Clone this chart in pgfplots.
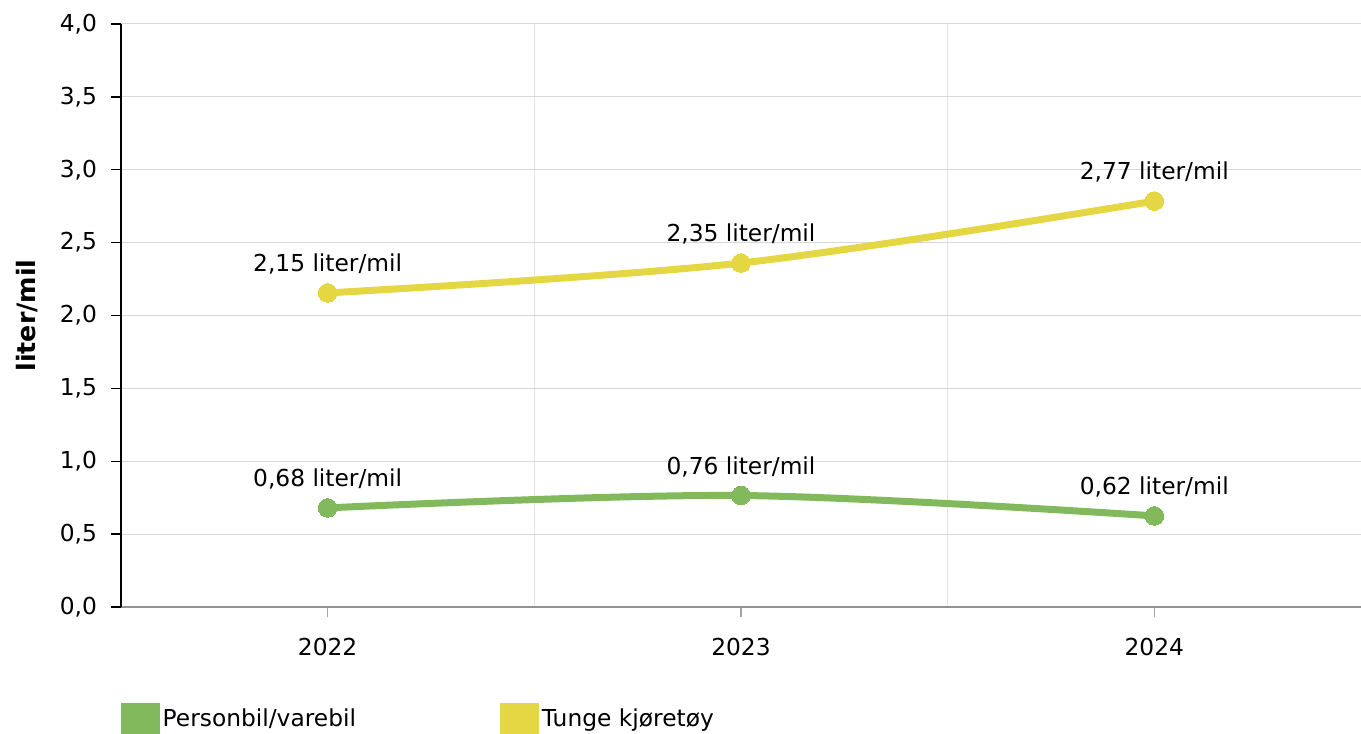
\documentclass[border=0pt]{standalone}
\usepackage{pgfplots}
\pgfplotsset{compat=1.18}
\usepackage{pgfplotstable}
\usepackage{fontspec}
\setmainfont{DejaVu Sans}
\definecolor{cgreen}{RGB}{130,185,92}
\definecolor{cyellow}{RGB}{229,215,68}
\definecolor{gridc}{RGB}{216,216,216}
\definecolor{vgridc}{RGB}{228,228,228}
\pgfplotstableread[col sep=semicolon,row sep=\\]{
x;y;lab\\
0;0.68;0,68 liter/mil\\
1;0.765;0,76 liter/mil\\
2;0.625;0,62 liter/mil\\
}\green
\pgfplotstableread[col sep=semicolon,row sep=\\]{
x;y;lab\\
0;2.155;2,15 liter/mil\\
1;2.36;2,35 liter/mil\\
2;2.785;2,77 liter/mil\\
}\yellow
\begin{document}
\begin{tikzpicture}[x=1pt,y=1pt,font=\fontsize{17.5pt}{20pt}\selectfont]
\useasboundingbox (-90.75,-94.5) rectangle (930,455.25);
\begin{axis}[
  at={(0,0)}, anchor=south west,
  scale only axis, width=930pt, height=437.25pt,
  xmin=-0.5, xmax=2.5, ymin=0, ymax=4,
  xtick={0,1,2}, xticklabels={2022,2023,2024},
  ytick={0,0.5,...,4},
  minor xtick={0.5,1.5},
  xminorgrids=true, ymajorgrids=true,
  minor x grid style={vgridc, line width=0.75pt},
  major y grid style={gridc, line width=0.75pt},
  axis x line=bottom, axis y line=left,
  axis line style={-},
  x axis line style={color=gray!85, line width=0.9pt},
  y axis line style={color=black, line width=1.1pt},
  tick align=outside, major tick length=7.5pt, minor tick length=0pt,
  xtick style={color=gray!70, line width=0.9pt},
  ytick style={color=black, line width=1.1pt},
  /pgf/number format/assume math mode=true,
  yticklabel style={xshift=-7pt, /pgf/number format/.cd, use comma, fixed, fixed zerofill, precision=1},
  xticklabel style={yshift=-12pt},
  ylabel={\textbf{liter/mil}},
  ylabel style={at={(axis description cs:-0.0758,0.5)}, anchor=center, font=\fontsize{19pt}{22pt}\selectfont},
  clip=false,
  legend style={draw=none, fill=none, inner sep=0pt, outer sep=0pt,
    at={(axis description cs:0,0)}, anchor=north west, yshift=-72pt,
    legend columns=2, legend cell align=left,
    /tikz/every even column/.append style={column sep=0pt}},
  nodes near coords,
  point meta=explicit symbolic,
  every node near coord/.append style={anchor=base, yshift=16pt, inner sep=0pt, text=black},
]
\addplot[cgreen, line width=5.25pt, smooth, tension=0.55, mark=*, mark size=7pt,
  mark options={fill=cgreen, line width=0pt},
  legend image code/.code={\fill[cgreen] (0pt,-15pt) rectangle (24pt,9pt);}]
  table[x=x, y=y, meta=lab] {\green};
\addlegendentry{\makebox[251.25pt][l]{Personbil/varebil}}
\addplot[cyellow, line width=5.25pt, smooth, tension=0.55, mark=*, mark size=7pt,
  mark options={fill=cyellow, line width=0pt},
  legend image code/.code={\fill[cyellow] (0pt,-15pt) rectangle (24pt,9pt);}]
  table[x=x, y=y, meta=lab] {\yellow};
\addlegendentry{Tunge kjøretøy}
\end{axis}
\end{tikzpicture}
\end{document}
